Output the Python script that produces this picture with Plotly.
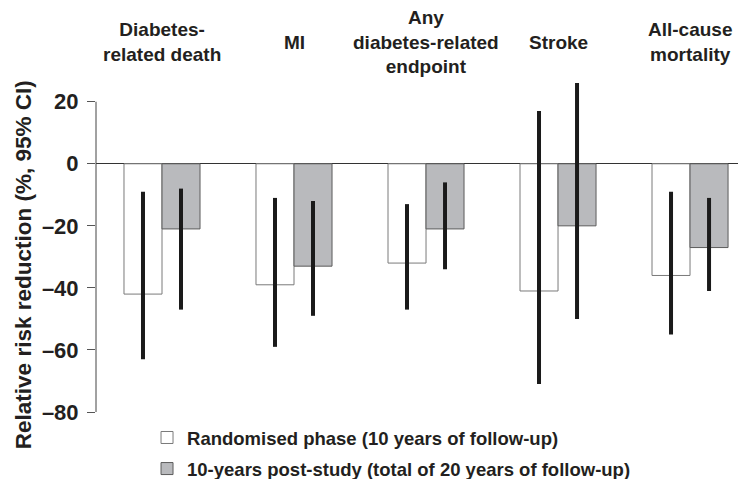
import plotly.graph_objects as go

categories = ["Diabetes-related death", "MI", "Any diabetes-related endpoint", "Stroke", "All-cause mortality"]
category_labels = ["Diabetes-<br>related death", "MI", "Any<br>diabetes-related<br>endpoint", "Stroke", "All-cause<br>mortality"]

series_names = ["Randomised phase (10 years of follow-up)", "10-years post-study (total of 20 years of follow-up)"]
randomised = [-42, -39, -32, -41, -36]
randomised_lo = [-63, -59, -47, -71, -55]
randomised_hi = [-9, -11, -13, 17, -9]
poststudy = [-21, -33, -21, -20, -27]
poststudy_lo = [-47, -49, -34, -50, -41]
poststudy_hi = [-8, -12, -6, 26, -11]

tick_vals = [20, 0, -20, -40, -60, -80]
tick_text = ["20", "0", "\u201320", "\u201340", "\u201360", "\u201380"]
y_title = "Relative risk reduction (%, 95% CI)"

FONT = "Liberation Sans, Arial, sans-serif"
TXT = "#231f20"

def err(vals, lo, hi):
    return dict(
        type="data", symmetric=False,
        array=[h - v for v, h in zip(vals, hi)],
        arrayminus=[v - l for v, l in zip(vals, lo)],
        color="#1a1a1a", thickness=4, width=0,
    )

fig = go.Figure()
fig.add_trace(go.Bar(
    x=categories, y=randomised, name=series_names[0], legendgroup="a",
    marker=dict(color="#ffffff", line=dict(color="#7a7a7a", width=1)),
    error_y=err(randomised, randomised_lo, randomised_hi),
))
fig.add_trace(go.Bar(
    x=categories, y=poststudy, name=series_names[1], legendgroup="b",
    marker=dict(color="#b9babd", line=dict(color="#5c5c5c", width=1)),
    error_y=err(poststudy, poststudy_lo, poststudy_hi),
))

annotations = []
for c, lab in zip(categories, category_labels):
    annotations.append(dict(
        x=c, xref="x", y=1.1135, yref="paper", text=lab, showarrow=False,
        yanchor="middle", xanchor="center", align="center",
        font=dict(family=FONT, size=19, color=TXT, weight="bold"),
    ))
annotations.append(dict(
    x=-0.1105, xref="paper", y=0.4428, yref="paper", text=y_title, showarrow=False,
    textangle=-90, xanchor="center", yanchor="middle",
    font=dict(family=FONT, size=22.5, color=TXT, weight="bold"),
))

# The page body has an 8px default margin, so the figure is sized to end at the window edge.
fig.update_layout(
    width=738, height=471,
    margin=dict(l=88, r=0, t=72, b=67, autoexpand=False),
    paper_bgcolor="white", plot_bgcolor="white",
    barmode="group", bargap=0.424, bargroupgap=0,
    font=dict(family=FONT, color=TXT),
    showlegend=True,
    legend=dict(
        x=0.0785, y=-0.021, xanchor="left", yanchor="top",
        font=dict(family=FONT, size=18.5, color=TXT, weight="bold"),
        bgcolor="rgba(0,0,0,0)", traceorder="grouped", tracegroupgap=4,
    ),
    xaxis=dict(
        type="category", range=[-0.5, 4.424], automargin=False,
        showticklabels=False, showline=False, ticks="", showgrid=False, zeroline=False,
    ),
    yaxis=dict(
        range=[-80, 27], tickvals=tick_vals, ticktext=tick_text, automargin=False,
        ticks="outside", ticklen=8, tickcolor="#555", tickwidth=1,
        ticklabelstandoff=4,
        showgrid=False, showline=False,
        zeroline=True, zerolinecolor="#333", zerolinewidth=1,
        tickfont=dict(family=FONT, size=22, color=TXT, weight="bold"),
    ),
    annotations=annotations,
    shapes=[dict(type="line", xref="paper", x0=0, x1=0, yref="y", y0=-80, y1=20,
                 line=dict(color="#444", width=1), layer="above")],
)

fig.write_html("out.html")
